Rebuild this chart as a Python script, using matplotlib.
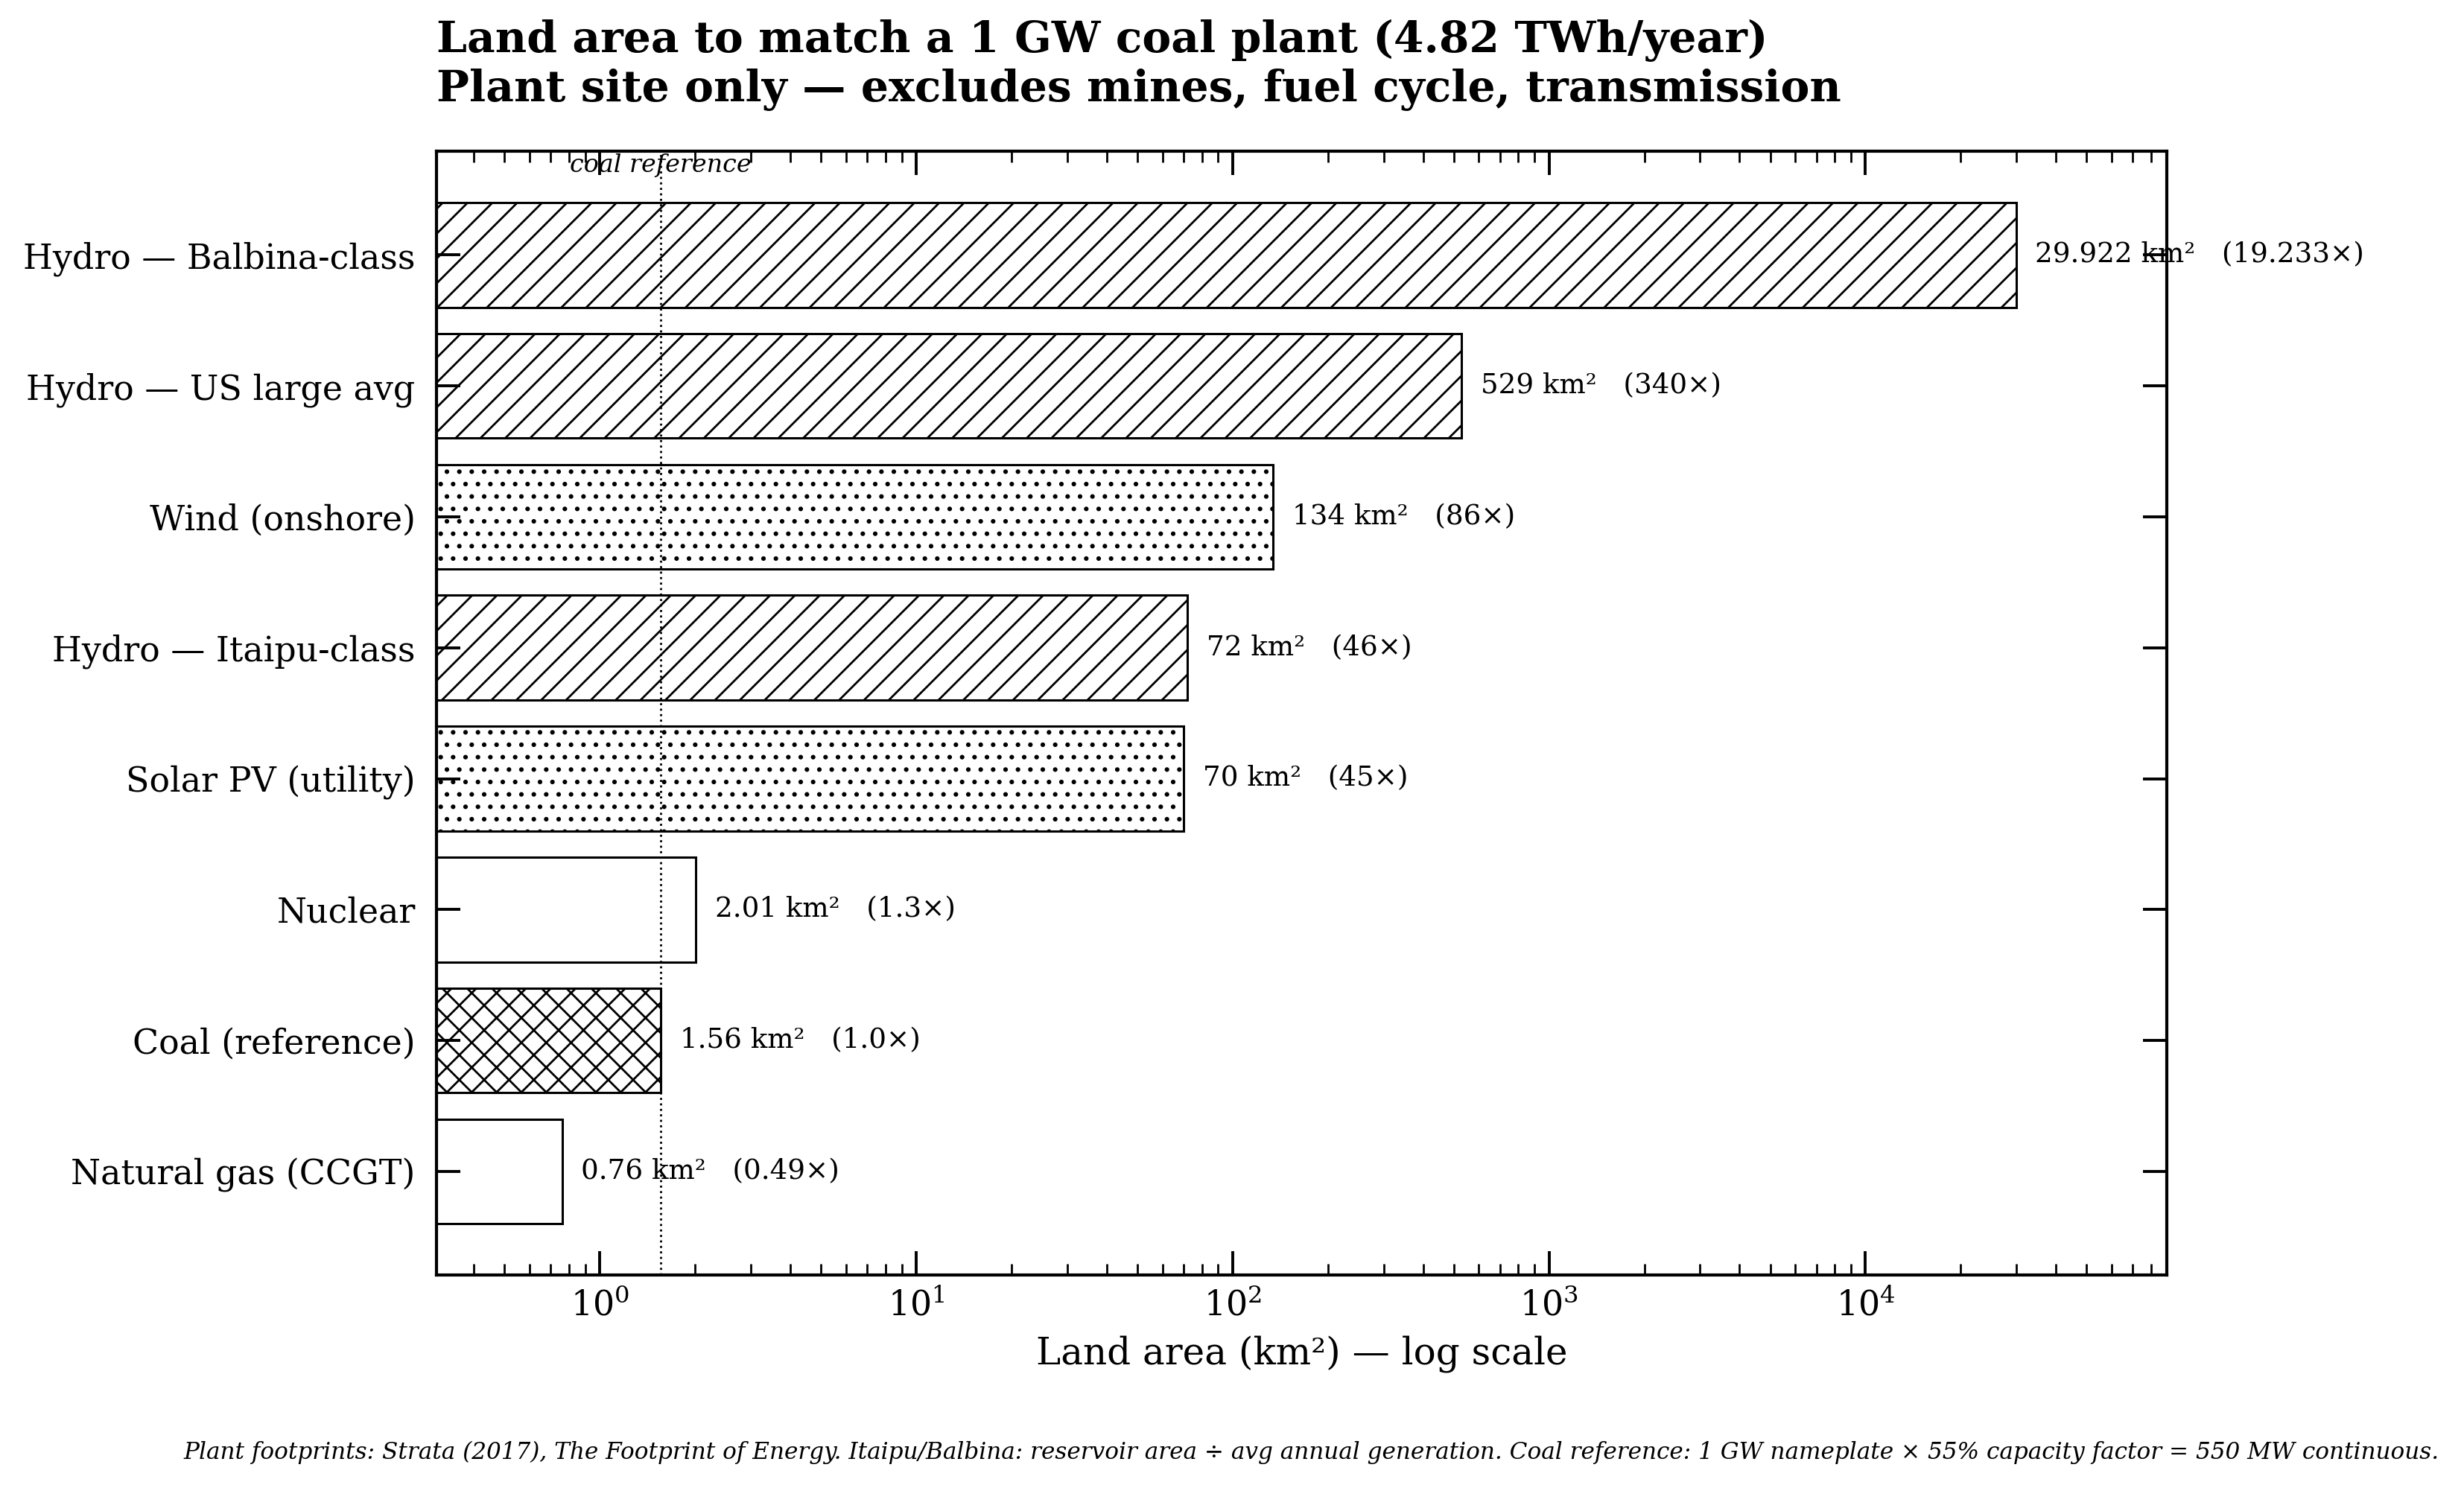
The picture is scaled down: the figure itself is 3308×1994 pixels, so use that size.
import matplotlib
matplotlib.use("Agg")
import matplotlib.pyplot as plt
import numpy as np

plt.rcParams['font.family'] = ['DejaVu Serif']
plt.rcParams['hatch.linewidth'] = 1.0

# data, top to bottom
sources = ['Hydro — Balbina-class', 'Hydro — US large avg', 'Wind (onshore)',
           'Hydro — Itaipu-class', 'Solar PV (utility)', 'Nuclear',
           'Coal (reference)', 'Natural gas (CCGT)']
area_km2 = [29922, 529, 134, 72, 70, 2.01, 1.5558, 0.76]
hatches = ['//', '//', '..', '//', '..', '', 'xx', '']
coal_area = 1.5558


def fmt_area(v):
    if v >= 10:
        return f"{v:,.0f}".replace(',', '.')
    return f"{v:.2f}"


def fmt_ratio(r):
    if r >= 10:
        return f"{r:,.0f}".replace(',', '.')
    if r >= 1:
        return f"{r:.1f}"
    return f"{r:.2f}"


fig = plt.figure(figsize=(16.54, 9.97), dpi=200)
ax = fig.add_axes([0.177, 0.1415, 0.7025, 0.7565])

y = np.arange(len(sources))
for yi, v, h in zip(y, area_km2, hatches):
    ax.barh(yi, v, height=0.8, color='white', edgecolor='black',
            linewidth=1.1, hatch=h)
    ax.text(v * 1.15, yi, f"{fmt_area(v)} km²   ({fmt_ratio(v / coal_area)}×)",
            va='center', ha='left', fontsize=13.4)

ax.set_xscale('log')
ax.set_xlim(min(area_km2) * 0.4, max(area_km2) * 3)
ax.set_yticks(y)
ax.set_yticklabels(sources, fontsize=16.5)
ax.invert_yaxis()

ax.axvline(coal_area, color='black', linestyle=':', linewidth=1.0)
ax.text(coal_area, 0.998, 'coal reference', transform=ax.get_xaxis_transform(),
        ha='center', va='top', fontsize=12, style='italic')

ax.tick_params(which='both', direction='in', top=True, right=True)
ax.tick_params(which='major', length=11.5, width=1.4, labelsize=16.5)
ax.tick_params(axis='y', which='major', pad=10)
ax.tick_params(axis='x', which='major', pad=7)
ax.tick_params(which='minor', length=5.5, width=1.0)
for s in ax.spines.values():
    s.set_linewidth(1.5)

ax.set_xlabel('Land area (km²) — log scale', fontsize=18, labelpad=6)

fig.text(0.177, 0.987, 'Land area to match a 1 GW coal plant (4.82 TWh/year)\n'
         'Plant site only — excludes mines, fuel cycle, transmission',
         ha='left', va='top', fontsize=21, fontweight='bold', linespacing=1.2)

fig.text(0.990, 0.022, 'Plant footprints: Strata (2017), The Footprint of Energy. '
         'Itaipu/Balbina: reservoir area ÷ avg annual generation. '
         'Coal reference: 1 GW nameplate × 55% capacity factor = 550 MW continuous.',
         ha='right', va='center', fontsize=11.2, style='italic')

fig.savefig('out.png', dpi=200)
